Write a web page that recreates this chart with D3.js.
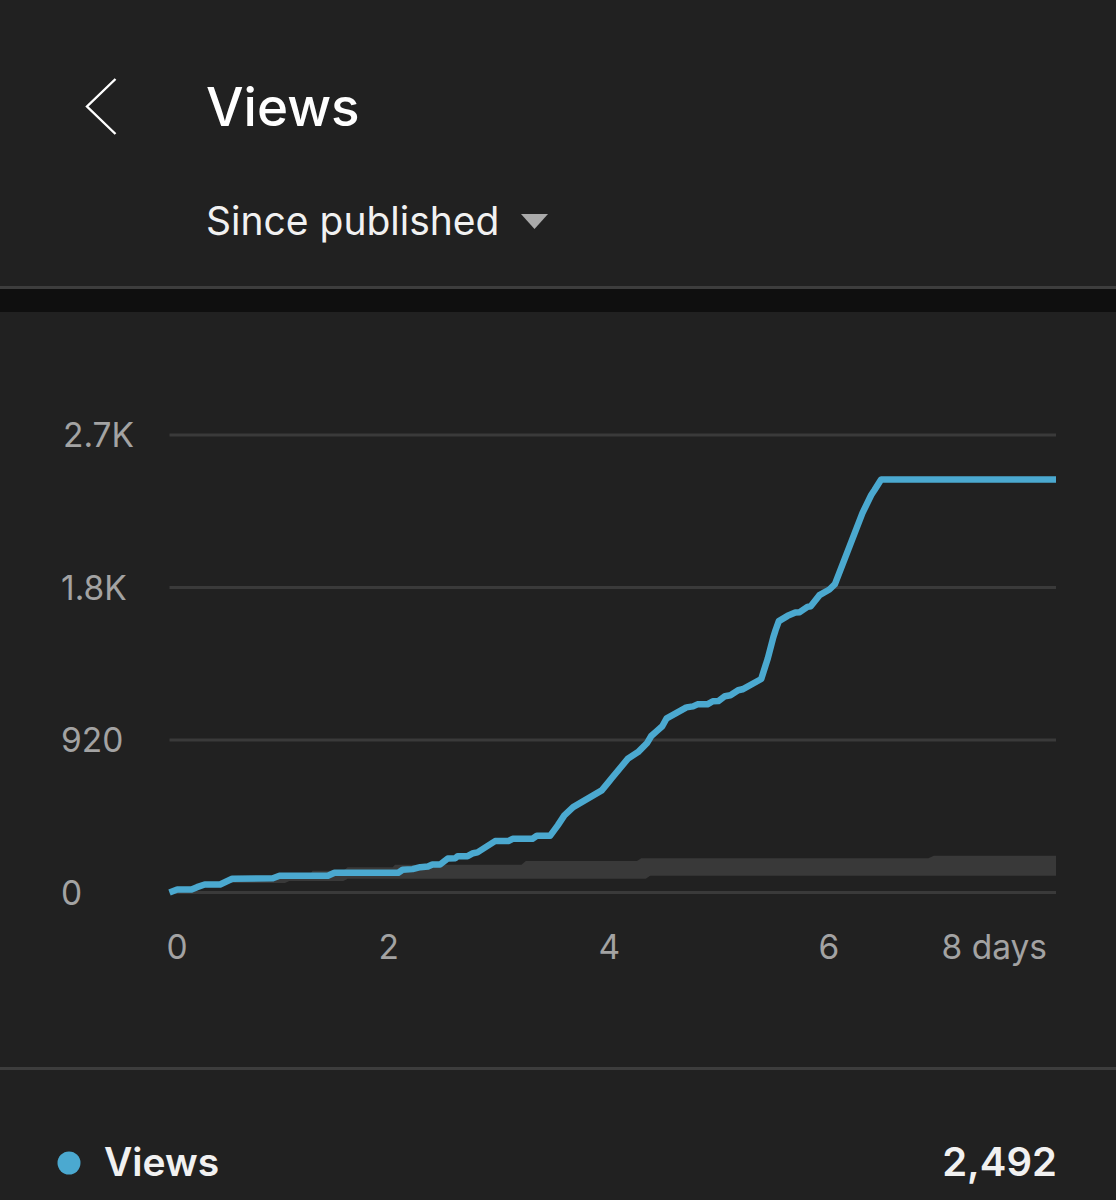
<!DOCTYPE html>
<html>
<head>
<meta charset="utf-8">
<script src="https://cdn.jsdelivr.net/npm/d3@7"></script>
<style>
  html, body { margin: 0; padding: 0; background: #212121; }
  svg { display: block; }
  text { font-family: Inter, Roboto, "Noto Sans", sans-serif; }
</style>
</head>
<body>
<div id="chart"></div>
<script>
const W = 1116;
const H = 1200;

// line (days since published, views)
const lineDays = [0, 0.07, 0.20, 0.25, 0.32, 0.46, 0.57, 0.94, 1.00, 1.44, 1.50, 2.08, 2.12, 2.21, 2.28, 2.35, 2.39, 2.46, 2.53, 2.60, 2.62, 2.71, 2.76, 2.80, 2.96, 3.08, 3.12, 3.30, 3.34, 3.46, 3.53, 3.59, 3.67, 3.93, 3.99, 4.02, 4.17, 4.26, 4.34, 4.38, 4.43, 4.48, 4.52, 4.70, 4.76, 4.80, 4.89, 4.94, 4.99, 5.05, 5.10, 5.17, 5.21, 5.38, 5.44, 5.49, 5.51, 5.54, 5.62, 5.69, 5.73, 5.80, 5.83, 5.91, 6.00, 6.05, 6.30, 6.38, 6.41, 6.47, 8.06];
const lineViews = [0, 18, 18, 32, 48, 48, 83, 86, 101, 101, 119, 119, 137, 141, 153, 157, 169, 169, 205, 207, 219, 219, 237, 242, 310, 310, 324, 324, 342, 342, 405, 465, 515, 616, 664, 689, 809, 847, 900, 944, 974, 1003, 1051, 1117, 1123, 1135, 1135, 1154, 1155, 1184, 1190, 1220, 1226, 1288, 1413, 1540, 1582, 1637, 1669, 1689, 1691, 1723, 1727, 1794, 1828, 1860, 2289, 2398, 2428, 2492, 2492];

// grey "typical" band, stepped
const bandDays = [0.55, 1.05, 1.09, 1.28, 1.30, 1.58, 1.62, 2.03, 2.05, 3.20, 3.24, 4.25, 4.29, 4.33, 4.37, 6.90, 6.95, 8.06];
const bandLow = [57, 57, 69, 69, 69, 69, 83, 83, 83, 83, 83, 83, 83, 83, 101, 101, 101, 101];
const bandHigh = [90, 90, 110, 110, 131, 131, 152, 152, 168, 168, 190, 190, 206, 206, 206, 206, 222, 222];

const yTicks = [0, 920, 1840, 2760];
const yTickLabels = ["0", "920", "1.8K", "2.7K"];
const xTicks = [0, 2, 4, 6, 8];
const xTickLabels = ["0", "2", "4", "6", "8 days"];
const totalViews = 2492;

const x = d3.scaleLinear().domain([0, 8.06]).range([169.5, 1056]);
const y = d3.scaleLinear().domain([0, 2760]).range([892.5, 435]);

const svg = d3.select("#chart").append("svg")
  .attr("width", W)
  .attr("height", H)
  .attr("viewBox", `0 0 ${W} ${H}`);

svg.append("rect").attr("width", W).attr("height", H).attr("fill", "#212121");

// header
svg.append("path")
  .attr("d", "M115.5 79 L87 106.5 L115.5 134")
  .attr("fill", "none")
  .attr("stroke", "#fff")
  .attr("stroke-width", 2.4);

svg.append("text")
  .attr("x", 206).attr("y", 126)
  .attr("font-size", 53).attr("font-weight", 500)
  .attr("fill", "#fff")
  .text("Views");

svg.append("text")
  .attr("x", 206).attr("y", 235)
  .attr("font-size", 39)
  .attr("fill", "#f1f1f1")
  .text("Since published");

svg.append("path")
  .attr("d", "M521 214 L548 214 L534.5 229 Z")
  .attr("fill", "#aaa");

svg.append("rect").attr("x", 0).attr("y", 286).attr("width", W).attr("height", 3).attr("fill", "#3d3d3d");
svg.append("rect").attr("x", 0).attr("y", 289).attr("width", W).attr("height", 23).attr("fill", "#0f0f0f");

// grid
svg.append("g").selectAll("line")
  .data(yTicks)
  .join("line")
  .attr("x1", x(0)).attr("x2", x(8.06))
  .attr("y1", d => y(d)).attr("y2", d => y(d))
  .attr("stroke", "#3a3a3a")
  .attr("stroke-width", 3);

svg.append("g").selectAll("text")
  .data(yTicks)
  .join("text")
  .attr("x", d => d === 2760 ? 63 : 61)
  .attr("y", d => y(d) + 12)
  .attr("font-size", 33.5)
  .attr("fill", "#a3a3a3")
  .text((d, i) => yTickLabels[i]);

svg.append("g").selectAll("text")
  .data(xTicks)
  .join("text")
  .attr("x", d => d === 8 ? 1047 : (d === 0 ? x(0) - 3 : x(d) - 11))
  .attr("y", 959)
  .attr("text-anchor", d => d === 8 ? "end" : "start")
  .attr("font-size", 33.5)
  .attr("fill", "#a3a3a3")
  .text((d, i) => xTickLabels[i]);

// band
const band = d3.area()
  .x((d, i) => x(bandDays[i]))
  .y0((d, i) => y(bandLow[i]))
  .y1((d, i) => y(bandHigh[i]));

svg.append("path")
  .attr("d", band(bandDays))
  .attr("fill", "#393939");

// line
const line = d3.line()
  .x((d, i) => x(lineDays[i]))
  .y((d, i) => y(lineViews[i]));

svg.append("path")
  .attr("d", line(lineDays))
  .attr("fill", "none")
  .attr("stroke", "#4ba9d0")
  .attr("stroke-width", 6.5)
  .attr("stroke-linejoin", "round");

// footer
svg.append("rect").attr("x", 0).attr("y", 1067).attr("width", W).attr("height", 3).attr("fill", "#3d3d3d");

svg.append("circle").attr("cx", 69).attr("cy", 1163).attr("r", 11.5).attr("fill", "#4ba9d0");

svg.append("text")
  .attr("x", 104).attr("y", 1176)
  .attr("font-size", 39).attr("font-weight", 600)
  .attr("fill", "#f1f1f1")
  .text("Views");

svg.append("text")
  .attr("x", 1057).attr("y", 1176)
  .attr("text-anchor", "end")
  .attr("font-size", 40).attr("font-weight", 600)
  .attr("fill", "#f1f1f1")
  .text(d3.format(",")(totalViews));
</script>
</body>
</html>
